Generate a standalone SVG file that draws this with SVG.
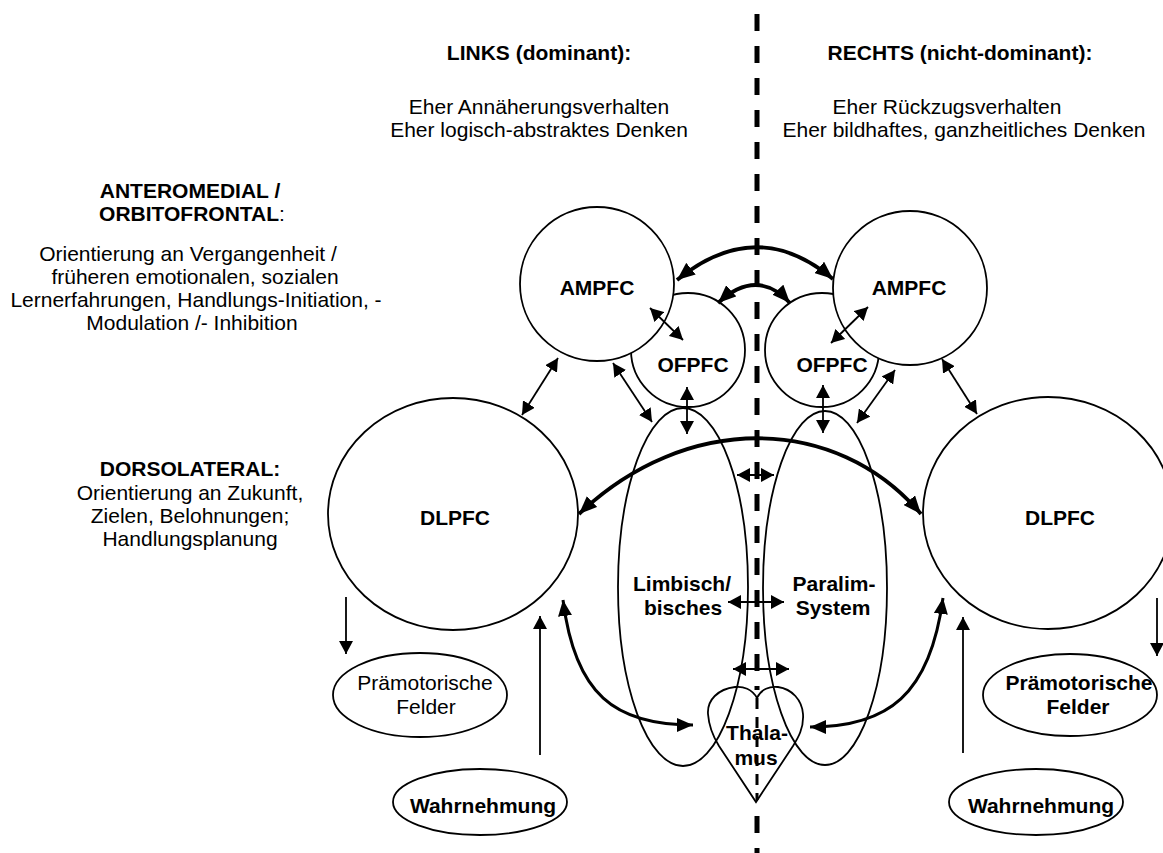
<svg xmlns="http://www.w3.org/2000/svg" width="1163" height="853" viewBox="0 0 1163 853">
<style>
text{font-family:"Liberation Sans",Arial,sans-serif;font-size:21px;fill:#000}
.b{font-weight:bold}
.c{text-anchor:middle}
.node{fill:none;stroke:#000;stroke-width:1.8}
.wn{fill:#fff;stroke:#000;stroke-width:1.8}
.thin{fill:none;stroke:#000;stroke-width:1.8;marker-start:url(#ah);marker-end:url(#ah)}
.one{fill:none;stroke:#000;stroke-width:1.8;marker-end:url(#ah)}
.bold{fill:none;stroke:#000;stroke-width:3.8;marker-start:url(#bh);marker-end:url(#bh)}
.mid{fill:none;stroke:#000;stroke-width:3;marker-start:url(#bh2);marker-end:url(#bh2)}
</style>
<defs>
<marker id="ah" markerUnits="userSpaceOnUse" markerWidth="13" markerHeight="14" refX="13" refY="7" orient="auto-start-reverse"><path d="M0,0 L13,7 L0,14 z" fill="#000"/></marker>
<marker id="bh" markerUnits="userSpaceOnUse" markerWidth="18" markerHeight="15" refX="18" refY="7.5" orient="auto-start-reverse"><path d="M0,0 L18,7.5 L0,15 z" fill="#000"/></marker>
<marker id="bh2" markerUnits="userSpaceOnUse" markerWidth="16" markerHeight="14" refX="16" refY="7" orient="auto-start-reverse"><path d="M0,0 L16,7 L0,14 z" fill="#000"/></marker>
</defs>
<rect width="1163" height="853" fill="#fff"/>

<g id="header-left">
<text class="b c" x="539" y="60">LINKS (dominant):</text>
<text class="c" x="539" y="114">Eher Annäherungsverhalten</text>
<text class="c" x="539" y="137">Eher logisch-abstraktes Denken</text>
</g>
<g id="header-right">
<text class="b c" x="960" y="60">RECHTS (nicht-dominant):</text>
<text class="c" x="947" y="114">Eher Rückzugsverhalten</text>
<text class="c" x="964" y="137">Eher bildhaftes, ganzheitliches Denken</text>
</g>
<g id="label-anteromedial">
<text class="b c" x="190" y="198">ANTEROMEDIAL /</text>
<text class="c" x="192" y="221"><tspan class="b">ORBITOFRONTAL</tspan>:</text>
<text class="c" x="188" y="261">Orientierung an Vergangenheit /</text>
<text class="c" x="195" y="284">früheren emotionalen, sozialen</text>
<text class="c" x="196" y="307">Lernerfahrungen, Handlungs-Initiation, -</text>
<text class="c" x="192" y="330">Modulation /- Inhibition</text>
</g>
<g id="label-dorsolateral">
<text class="b c" x="190" y="476">DORSOLATERAL:</text>
<text class="c" x="190" y="500">Orientierung an Zukunft,</text>
<text class="c" x="190" y="523">Zielen, Belohnungen;</text>
<text class="c" x="190" y="546">Handlungsplanung</text>
</g>

<g id="dlpfc-left"><ellipse class="node" cx="453" cy="514" rx="125" ry="116"/><text class="b c" x="455" y="525">DLPFC</text></g>
<g id="dlpfc-right"><ellipse class="node" cx="1048" cy="513" rx="125" ry="116"/><text class="b c" x="1060" y="525">DLPFC</text></g>
<g id="ofpfc-left"><circle class="wn" cx="688" cy="350" r="57"/><text class="b c" x="693" y="372">OFPFC</text></g>
<g id="ofpfc-right"><circle class="wn" cx="822" cy="350" r="57"/><text class="b c" x="832" y="372">OFPFC</text></g>
<g id="ampfc-left"><circle class="wn" cx="597" cy="284" r="77"/><text class="b c" x="597" y="295">AMPFC</text></g>
<g id="ampfc-right"><circle class="wn" cx="910" cy="288" r="77"/><text class="b c" x="909" y="295">AMPFC</text></g>
<g id="limbic-left"><ellipse class="node" cx="683" cy="587" rx="65" ry="179"/><text class="b c" x="682" y="591">Limbisch/</text><text class="b c" x="683" y="615">bisches</text></g>
<g id="limbic-right"><ellipse class="node" cx="825" cy="588" rx="62" ry="177"/><text class="b c" x="834" y="591">Paralim-</text><text class="b c" x="833" y="615">System</text></g>
<g id="thalamus"><path class="node" d="M757,698 C752,689 743,686 735,687 C718,689 707,700 708,714 C709,728 714,738 719,746 L756,802 L793,746 C798,738 804,728 803,714 C802,700 792,689 778,687 C770,686 761,689 757,698 Z"/><text class="b c" x="757" y="740">Thala-</text><text class="b c" x="756" y="765">mus</text></g>
<g id="praemotor-left"><ellipse class="node" cx="420" cy="695" rx="87" ry="42"/><text class="c" x="425" y="690">Prämotorische</text><text class="c" x="426" y="714">Felder</text></g>
<g id="praemotor-right"><ellipse class="node" cx="1070" cy="695" rx="87" ry="41"/><text class="b c" x="1079" y="690">Prämotorische</text><text class="b c" x="1078" y="714">Felder</text></g>
<g id="wahrnehmung-left"><ellipse class="node" cx="480" cy="802" rx="87" ry="33"/><text class="b c" x="483" y="813">Wahrnehmung</text></g>
<g id="wahrnehmung-right"><ellipse class="node" cx="1036" cy="802" rx="87" ry="33"/><text class="b c" x="1041" y="813">Wahrnehmung</text></g>

<g id="connectors">
<path class="bold" d="M677,280 Q757,215 833,279"/>
<path class="bold" d="M718,303 Q757,267 790,303"/>
<path class="bold" d="M579,514 C685,413 835,413 921,514"/>
<path class="mid" d="M563,600 C575,695 615,725 693,725"/>
<path class="mid" d="M810,727 C888,727 930,695 943,598"/>
<line class="thin" x1="650" y1="308" x2="683" y2="340"/>
<line class="thin" x1="868" y1="307" x2="831" y2="343"/>
<line class="thin" x1="687" y1="387" x2="687" y2="434"/>
<line class="thin" x1="823" y1="385" x2="823" y2="433"/>
<line class="thin" x1="613" y1="363" x2="652" y2="422"/>
<line class="thin" x1="895" y1="370" x2="857" y2="423"/>
<line class="thin" x1="558" y1="358" x2="522" y2="415"/>
<line class="thin" x1="942" y1="359" x2="977" y2="414"/>
<line class="thin" x1="737" y1="475" x2="774" y2="475"/>
<line class="thin" x1="728" y1="602" x2="784" y2="602"/>
<line class="thin" x1="733" y1="669" x2="789" y2="669"/>
<line class="one" x1="346" y1="597" x2="346" y2="654"/>
<line class="one" x1="540" y1="755" x2="540" y2="616"/>
<line class="one" x1="1157" y1="598" x2="1157" y2="656"/>
<line class="one" x1="963" y1="753" x2="963" y2="617"/>
</g>

<g id="midline">
<line x1="757" y1="14" x2="757" y2="690" stroke="#000" stroke-width="5" stroke-dasharray="17 15"/>
<line x1="757" y1="698" x2="757" y2="800" stroke="#000" stroke-width="3" stroke-dasharray="11 8"/>
<line x1="757" y1="816" x2="757" y2="853" stroke="#000" stroke-width="5" stroke-dasharray="17 15"/>
</g>
</svg>
